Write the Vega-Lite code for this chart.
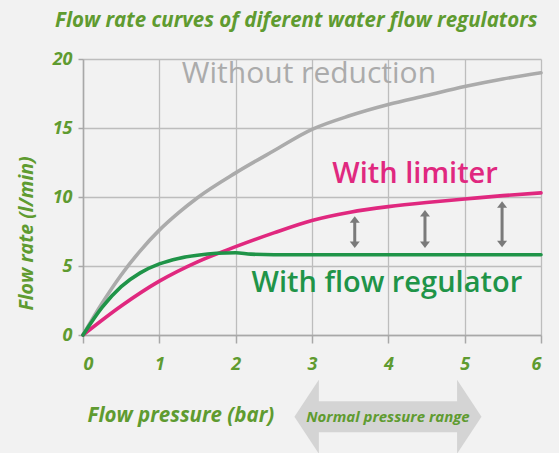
{
  "$schema": "https://vega.github.io/schema/vega-lite/v6.json",
  "autosize": {"type": "none"},
  "width": 458,
  "height": 276,
  "padding": {"left": 83, "top": 59, "right": 18, "bottom": 118},
  "background": "#f2f2f2",
  "title": {
    "text": "Flow rate curves of diferent water flow regulators",
    "anchor": "start",
    "frame": "group",
    "dx": -28,
    "offset": -1,
    "baseline": "bottom",
    "font": "Open Sans",
    "fontSize": 20.5,
    "fontWeight": "bold",
    "fontStyle": "italic",
    "color": "#5f9b30"
  },
  "config": {
    "view": {"stroke": null},
    "axis": {
      "labelFont": "Open Sans",
      "labelFontSize": 18,
      "labelFontWeight": "bold",
      "labelFontStyle": "italic",
      "labelColor": "#5f9b30",
      "titleFont": "Open Sans",
      "titleFontWeight": "bold",
      "titleFontStyle": "italic",
      "titleColor": "#5f9b30",
      "domainColor": "#a8a8a8",
      "domainWidth": 1.5,
      "gridColor": "#bdbdbd",
      "gridWidth": 1.3,
      "gridOpacity": 1,
      "tickColor": "#a8a8a8",
      "tickWidth": 1.5
    }
  },
  "datasets": {
    "curves": [
      {"s": "Without reduction", "x": 0, "y": 0},
      {"s": "Without reduction", "x": 0.25, "y": 2.3},
      {"s": "Without reduction", "x": 0.5, "y": 4.35},
      {"s": "Without reduction", "x": 0.75, "y": 6.1},
      {"s": "Without reduction", "x": 1, "y": 7.6},
      {"s": "Without reduction", "x": 1.25, "y": 8.85},
      {"s": "Without reduction", "x": 1.5, "y": 9.95},
      {"s": "Without reduction", "x": 2, "y": 11.75},
      {"s": "Without reduction", "x": 2.5, "y": 13.35},
      {"s": "Without reduction", "x": 3, "y": 14.9},
      {"s": "Without reduction", "x": 3.5, "y": 15.9},
      {"s": "Without reduction", "x": 4, "y": 16.7},
      {"s": "Without reduction", "x": 4.5, "y": 17.35},
      {"s": "Without reduction", "x": 5, "y": 18.0},
      {"s": "Without reduction", "x": 5.5, "y": 18.55},
      {"s": "Without reduction", "x": 6, "y": 19.0},
      {"s": "With limiter", "x": 0, "y": 0},
      {"s": "With limiter", "x": 0.5, "y": 2.1},
      {"s": "With limiter", "x": 1, "y": 3.9},
      {"s": "With limiter", "x": 1.5, "y": 5.3},
      {"s": "With limiter", "x": 2, "y": 6.4},
      {"s": "With limiter", "x": 2.5, "y": 7.4},
      {"s": "With limiter", "x": 3, "y": 8.3},
      {"s": "With limiter", "x": 3.5, "y": 8.9},
      {"s": "With limiter", "x": 4, "y": 9.3},
      {"s": "With limiter", "x": 4.5, "y": 9.6},
      {"s": "With limiter", "x": 5, "y": 9.85},
      {"s": "With limiter", "x": 5.5, "y": 10.1},
      {"s": "With limiter", "x": 6, "y": 10.3},
      {"s": "With flow regulator", "x": 0, "y": 0},
      {"s": "With flow regulator", "x": 0.25, "y": 2.0},
      {"s": "With flow regulator", "x": 0.5, "y": 3.5},
      {"s": "With flow regulator", "x": 0.75, "y": 4.5},
      {"s": "With flow regulator", "x": 1, "y": 5.15},
      {"s": "With flow regulator", "x": 1.25, "y": 5.55},
      {"s": "With flow regulator", "x": 1.5, "y": 5.78},
      {"s": "With flow regulator", "x": 1.75, "y": 5.92},
      {"s": "With flow regulator", "x": 2, "y": 5.96},
      {"s": "With flow regulator", "x": 2.2, "y": 5.86},
      {"s": "With flow regulator", "x": 2.5, "y": 5.82},
      {"s": "With flow regulator", "x": 4, "y": 5.82},
      {"s": "With flow regulator", "x": 6, "y": 5.82}
    ],
    "labels": [
      {"s": "Without reduction", "x": 2.96, "y": 18.9, "w": "normal"},
      {"s": "With limiter", "x": 4.35, "y": 11.7, "w": "semi"},
      {"s": "With flow regulator", "x": 3.98, "y": 3.8, "w": "semi"}
    ],
    "gaps": [
      {"x": 3.56, "lo": 6.3, "hi": 8.6},
      {"x": 4.48, "lo": 6.3, "hi": 9.05},
      {"x": 5.49, "lo": 6.35, "hi": 9.7}
    ],
    "range": [
      {"from": 3.08, "to": 4.91, "y": -5.92, "mid": 3.995, "label": "Normal pressure range"}
    ]
  },
  "layer": [
    {
      "data": {"name": "range"},
      "mark": {"type": "rule", "color": "#d4d4d4", "strokeWidth": 31, "strokeCap": "butt"},
      "encoding": {
        "x": {"field": "from", "type": "quantitative", "scale": {"domain": [0, 6], "nice": false}},
        "x2": {"field": "to"},
        "y": {"field": "y", "type": "quantitative", "scale": {"domain": [0, 20], "nice": false}}
      }
    },
    {
      "data": {"name": "range"},
      "mark": {"type": "point", "shape": "M0.02,-1L0.02,1L-0.64,0Z", "filled": true, "opacity": 1, "color": "#d4d4d4", "size": 5476},
      "encoding": {
        "x": {"field": "from", "type": "quantitative"},
        "y": {"field": "y", "type": "quantitative"}
      }
    },
    {
      "data": {"name": "range"},
      "mark": {"type": "point", "shape": "M-0.02,-1L-0.02,1L0.64,0Z", "filled": true, "opacity": 1, "color": "#d4d4d4", "size": 5476},
      "encoding": {
        "x": {"field": "to", "type": "quantitative"},
        "y": {"field": "y", "type": "quantitative"}
      }
    },
    {
      "data": {"name": "range"},
      "mark": {"type": "text", "font": "Open Sans", "fontSize": 15, "fontWeight": "bold", "fontStyle": "italic", "color": "#5f9b30", "baseline": "middle", "align": "center"},
      "encoding": {
        "x": {"field": "mid", "type": "quantitative"},
        "y": {"field": "y", "type": "quantitative"},
        "text": {"field": "label"}
      }
    },
    {
      "data": {"name": "curves"},
      "mark": {"type": "line", "interpolate": "monotone", "strokeWidth": 3.6, "strokeCap": "round"},
      "encoding": {
        "x": {
          "field": "x", "type": "quantitative",
          "scale": {"domain": [0, 6], "nice": false},
          "axis": {
            "values": [0, 1, 2, 3, 4, 5, 6],
            "format": "d",
            "tickSize": 8,
            "labelPadding": 12,
            "title": "Flow pressure (bar)",
            "titleFontSize": 20.5,
            "titleAnchor": "start",
            "titleAlign": "left",
            "titleBaseline": "middle",
            "titleX": 4,
            "titleY": 80
          }
        },
        "y": {
          "field": "y", "type": "quantitative",
          "scale": {"domain": [0, 20], "nice": false},
          "axis": {
            "values": [0, 5, 10, 15, 20],
            "format": "d",
            "tickSize": 5,
            "labelPadding": 6,
            "title": "Flow rate (l/min)",
            "titleFontSize": 19.5,
            "titleAngle": -90,
            "titleAlign": "center",
            "titleBaseline": "middle",
            "titleX": -57,
            "titleY": 174
          }
        },
        "color": {
          "field": "s", "type": "nominal", "legend": null,
          "scale": {"domain": ["Without reduction", "With limiter", "With flow regulator"], "range": ["#ababab", "#e0287f", "#1f9448"]}
        },
        "order": {"field": "x", "type": "quantitative"}
      }
    },
    {
      "data": {"name": "labels"},
      "transform": [{"filter": "datum.w == 'normal'"}],
      "mark": {"type": "text", "font": "Open Sans", "fontSize": 30, "fontWeight": "normal", "baseline": "middle", "align": "center", "color": "#ababab"},
      "encoding": {
        "x": {"field": "x", "type": "quantitative"},
        "y": {"field": "y", "type": "quantitative"},
        "text": {"field": "s"}
      }
    },
    {
      "data": {"name": "labels"},
      "transform": [{"filter": "datum.w == 'semi'"}],
      "mark": {"type": "text", "font": "Open Sans", "fontSize": 29, "fontWeight": 600, "baseline": "middle", "align": "center"},
      "encoding": {
        "x": {"field": "x", "type": "quantitative"},
        "y": {"field": "y", "type": "quantitative"},
        "text": {"field": "s"},
        "color": {"field": "s", "type": "nominal", "legend": null,
          "scale": {"domain": ["Without reduction", "With limiter", "With flow regulator"], "range": ["#ababab", "#e0287f", "#1f9448"]}}
      }
    },
    {
      "data": {"name": "gaps"},
      "mark": {"type": "rule", "color": "#7a7a7a", "strokeWidth": 3, "yOffset": -4, "y2Offset": 4},
      "encoding": {
        "x": {"field": "x", "type": "quantitative"},
        "y": {"field": "lo", "type": "quantitative"},
        "y2": {"field": "hi"}
      }
    },
    {
      "data": {"name": "gaps"},
      "mark": {"type": "point", "shape": "M0,0L-1,1.3L1,1.3Z", "filled": true, "opacity": 1, "color": "#7a7a7a", "size": 100},
      "encoding": {
        "x": {"field": "x", "type": "quantitative"},
        "y": {"field": "hi", "type": "quantitative"}
      }
    },
    {
      "data": {"name": "gaps"},
      "mark": {"type": "point", "shape": "M0,0L-1,-1.3L1,-1.3Z", "filled": true, "opacity": 1, "color": "#7a7a7a", "size": 100},
      "encoding": {
        "x": {"field": "x", "type": "quantitative"},
        "y": {"field": "lo", "type": "quantitative"}
      }
    }
  ]
}
